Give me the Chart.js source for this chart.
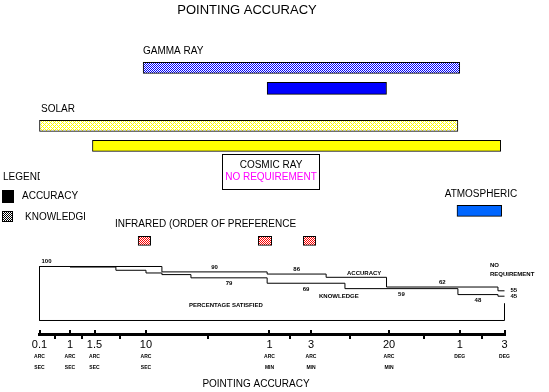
<!DOCTYPE html>
<html><head><meta charset="utf-8">
<script src="https://cdn.jsdelivr.net/npm/chart.js@4.4.0/dist/chart.umd.min.js"></script>
<style>html,body{margin:0;padding:0;background:#fff;}canvas{display:block;}</style>
</head><body>
<canvas id="c" width="549" height="392"></canvas>
<script>
// ---------------- DATA (angles in arcseconds, satisfaction in percent) ----------------
const X_TICK_VALUES = [0.1, 1, 1.5, 10, 60, 180, 1200, 3600, 10800];
const X_TICK_LABELS = ['0.1', '1', '1.5', '10', '1', '3', '20', '1', '3'];
const X_TICK_UNITS  = [['ARC','SEC'], ['ARC','SEC'], ['ARC','SEC'], ['ARC','SEC'],
                       ['ARC','MIN'], ['ARC','MIN'], ['ARC','MIN'], ['DEG'], ['DEG']];

const GAMMA_KNOWLEDGE      = [9, 3600];
const GAMMA_ACCURACY       = [58, 1130];
const SOLAR_KNOWLEDGE      = [0.1, 3500];
const SOLAR_ACCURACY       = [1.45, 9840];
const ATMOSPHERIC_ACCURACY = [3450, 10070];
const INFRARED_PREFERENCES = [[7.5, 10.7], [51, 63.6], [147, 202]];

const ACCURACY_X  = [0.1, 12.6, 58, 260, 1130, 9200, 10800];
const ACCURACY_Y  = [100, 90, 86, 80, 62, 55, 55];
const KNOWLEDGE_X = [1, 3.3, 10, 12.6, 19.2, 58, 411, 3500, 9200, 10800];
const KNOWLEDGE_Y = [99, 93, 88, 85, 79, 69, 59, 48, 45, 45];

// ---------------- LAYOUT (schematic axis placement, lanes) ----------------
const AXIS_FRACTIONS = [0, 0.0656, 0.1183, 0.2290, 0.4946, 0.5839, 0.7516, 0.9037, 1];
const LANE = {gammaK: 6.78, gammaA: 8.84, solarK: 12.59, solarA: 14.58, atm: 21.08, ir: 24.08};
const FONT = '"Liberation Sans", Arial, Helvetica, sans-serif';

const LOGS = X_TICK_VALUES.map(v => Math.log10(v));
function valueToFraction(v) {
  const lv = Math.log10(v);
  let i = 0;
  while (i < LOGS.length - 2 && lv > LOGS[i + 1]) i++;
  const t = (lv - LOGS[i]) / (LOGS[i + 1] - LOGS[i]);
  return AXIS_FRACTIONS[i] + t * (AXIS_FRACTIONS[i + 1] - AXIS_FRACTIONS[i]);
}
function fractionToValue(f) {
  let i = 0;
  while (i < AXIS_FRACTIONS.length - 2 && f > AXIS_FRACTIONS[i + 1]) i++;
  const t = (f - AXIS_FRACTIONS[i]) / (AXIS_FRACTIONS[i + 1] - AXIS_FRACTIONS[i]);
  return Math.pow(10, LOGS[i] + t * (LOGS[i + 1] - LOGS[i]));
}

class SchematicScale extends Chart.LinearScale {
  getPixelForValue(value) {
    if (value === null || value === undefined || isNaN(value)) return NaN;
    return this.getPixelForDecimal(valueToFraction(value));
  }
  getValueForPixel(pixel) { return fractionToValue(this.getDecimalForPixel(pixel)); }
}
SchematicScale.id = 'schematic';
SchematicScale.defaults = {};
Chart.register(SchematicScale);

const canvas = document.getElementById('c');
const mainCtx = canvas.getContext('2d');
function hatch(fg, bg, size, test) {
  const t = document.createElement('canvas'); t.width = size; t.height = size;
  const g = t.getContext('2d');
  g.fillStyle = bg; g.fillRect(0, 0, size, size);
  g.fillStyle = fg;
  for (let y = 0; y < size; y++) for (let x = 0; x < size; x++) if (test(x, y)) g.fillRect(x, y, 1, 1);
  return mainCtx.createPattern(t, 'repeat');
}
const checkerTest = (x, y) => (x + y) % 2 === 0;
const crossTest = (x, y) => (x + y) % 4 === 0 || ((x - y + 4) % 4) === 0;
const BLUE_HATCH = hatch('#0000ff', '#ffffff', 2, checkerTest);
const YELLOW_HATCH = hatch('#ffff00', '#ffffff', 4, crossTest);
const RED_HATCH = hatch('#ff0000', '#ffffff', 2, checkerTest);
const GREY_HATCH = hatch('#000000', '#ffffff', 2, checkerTest);

function bar(label, ranges, lane, color, thickness) {
  return {
    type: 'bar', label, indexAxis: 'y', xAxisID: 'x', yAxisID: 'yRows',
    grouped: false, barThickness: thickness,
    data: ranges.map(r => ({x: r, y: lane})),
    backgroundColor: color, borderColor: '#000', borderWidth: 1, borderSkipped: false,
    clip: false
  };
}
function steps(label, xs, ys) {
  return {
    type: 'line', label, xAxisID: 'x', yAxisID: 'yPct', stepped: 'before',
    data: xs.map((x, i) => ({x, y: ys[i]})),
    borderColor: '#000', borderWidth: 1, pointRadius: 0, fill: false, clip: false
  };
}

const datasets = [
  bar('GAMMA RAY knowledge', [GAMMA_KNOWLEDGE], LANE.gammaK, BLUE_HATCH, 11),
  bar('GAMMA RAY accuracy', [GAMMA_ACCURACY], LANE.gammaA, '#0000ff', 12),
  bar('SOLAR knowledge', [SOLAR_KNOWLEDGE], LANE.solarK, YELLOW_HATCH, 11),
  bar('SOLAR accuracy', [SOLAR_ACCURACY], LANE.solarA, '#ffff00', 11),
  bar('ATMOSPHERIC accuracy', [ATMOSPHERIC_ACCURACY], LANE.atm, '#0066ff', 11),
  bar('INFRARED', INFRARED_PREFERENCES, LANE.ir, RED_HATCH, 9),
  steps('ACCURACY', ACCURACY_X, ACCURACY_Y),
  steps('KNOWLEDGE', KNOWLEDGE_X, KNOWLEDGE_Y),
  {
    type: 'line', label: 'frame', xAxisID: 'x', yAxisID: 'yPct',
    data: [{x: X_TICK_VALUES[0], y: 100}, {x: X_TICK_VALUES[0], y: 0},
           {x: X_TICK_VALUES[8], y: 0}, {x: X_TICK_VALUES[8], y: 32}],
    borderColor: '#000', borderWidth: 1, pointRadius: 0, fill: false, clip: false
  }
];

function txt(ctx, s, x, y, font, align, color) {
  ctx.font = font; ctx.textAlign = align || 'left'; ctx.textBaseline = 'middle';
  ctx.fillStyle = color || '#000'; ctx.fillText(s, x, y);
}

const decor = {
  id: 'decor',
  afterDraw(chart) {
    const ctx = chart.ctx, xs = chart.scales.x, yp = chart.scales.yPct;
    ctx.save();
    ctx.fillStyle = '#000';
    X_TICK_VALUES.forEach(v => {
      const px = Math.round(xs.getPixelForValue(v));
      ctx.fillRect(px - 1, xs.top - 4, 2, 4);
    });
    X_TICK_UNITS.forEach((u, i) => {
      const px = xs.getPixelForValue(X_TICK_VALUES[i]);
      u.forEach((s, j) => txt(ctx, s, px, xs.top + 23 + j * 10.5, 'bold 5px ' + FONT, 'center'));
    });
    txt(ctx, 'POINTING ACCURACY', 247, 10, '13px ' + FONT, 'center');
    txt(ctx, 'POINTING ACCURACY', 256, 384, '10px ' + FONT, 'center');
    txt(ctx, 'GAMMA RAY', 143, 51, '10px ' + FONT);
    txt(ctx, 'SOLAR', 41, 109, '10px ' + FONT);
    ctx.strokeStyle = '#000'; ctx.lineWidth = 1;
    ctx.strokeRect(222.5, 154.5, 97, 35);
    txt(ctx, 'COSMIC RAY', 271, 165.5, '10px ' + FONT, 'center');
    txt(ctx, 'NO REQUIREMENT', 271, 177, '10px ' + FONT, 'center', '#ff00ff');
    ctx.save(); ctx.beginPath(); ctx.rect(0, 165, 40, 20); ctx.clip();
    txt(ctx, 'LEGEND', 3, 177, '10px ' + FONT); ctx.restore();
    ctx.fillStyle = '#000'; ctx.fillRect(2, 190, 12, 13);
    txt(ctx, 'ACCURACY', 22, 196.5, '10px ' + FONT);
    ctx.fillStyle = GREY_HATCH; ctx.fillRect(2, 211, 11, 11);
    ctx.strokeRect(2.5, 211.5, 10, 10);
    ctx.save(); ctx.beginPath(); ctx.rect(20, 205, 65, 20); ctx.clip();
    txt(ctx, 'KNOWLEDGE', 25, 217, '10px ' + FONT); ctx.restore();
    txt(ctx, 'ATMOSPHERIC', 481, 194.5, '10px ' + FONT, 'center');
    txt(ctx, 'INFRARED (ORDER OF PREFERENCE', 115, 224.5, '10px ' + FONT);
    const sf = 'bold 6px ' + FONT;
    txt(ctx, 'ACCURACY', 347, 273, sf);
    txt(ctx, 'KNOWLEDGE', 319, 296, sf);
    txt(ctx, 'NO', 490, 265, sf);
    txt(ctx, 'REQUIREMENT', 490, 274, sf);
    txt(ctx, 'PERCENTAGE SATISFIED', 189, 305, sf);
    function segLabels(X, Y, idx, dy) {
      idx.forEach(i => {
        const x0 = xs.getPixelForValue(X[i]), x1 = xs.getPixelForValue(X[i + 1]);
        const px = i === 0 ? x0 + 7 : (x0 + x1) / 2;
        txt(ctx, String(Y[i]), px, yp.getPixelForValue(Y[i]) + dy, sf, 'center');
      });
      const n = X.length - 1;
      txt(ctx, String(Y[n]), xs.getPixelForValue(X[n]) + 6, yp.getPixelForValue(Y[n]), sf);
    }
    segLabels(ACCURACY_X, ACCURACY_Y, [0, 1, 2, 4], -5);
    segLabels(KNOWLEDGE_X, KNOWLEDGE_Y, [4, 5, 6, 7], 6);
    ctx.restore();
  }
};

new Chart(canvas, {
  type: 'bar',
  data: {datasets},
  options: {
    responsive: false, animation: false, devicePixelRatio: 1,
    layout: {padding: {left: 39.5, right: 44.5, top: 0, bottom: 0}},
    plugins: {legend: {display: false}, tooltip: {enabled: false}, title: {display: false}},
    scales: {
      x: {
        type: 'schematic', position: 'bottom', offset: false,
        afterBuildTicks: s => { s.ticks = X_TICK_VALUES.map(v => ({value: v})); },
        afterFit: s => { s.height = 58; },
        border: {display: true, color: '#000', width: 3},
        grid: {display: true, drawOnChartArea: false, drawTicks: true, tickLength: 5, color: '#000', lineWidth: 2},
        ticks: {
          autoSkip: false, maxRotation: 0, minRotation: 0, padding: 0, color: '#000',
          font: {family: FONT, size: 11, lineHeight: 1},
          callback: (v, i) => X_TICK_LABELS[i]
        }
      },
      yRows: {axis: 'y', type: 'linear', display: false, offset: false, min: 0, max: 33.4, reverse: true},
      yPct: {axis: 'y', type: 'linear', display: false, offset: false, min: -25, max: 593.5}
    }
  },
  plugins: [decor]
});
</script>
</body></html>
